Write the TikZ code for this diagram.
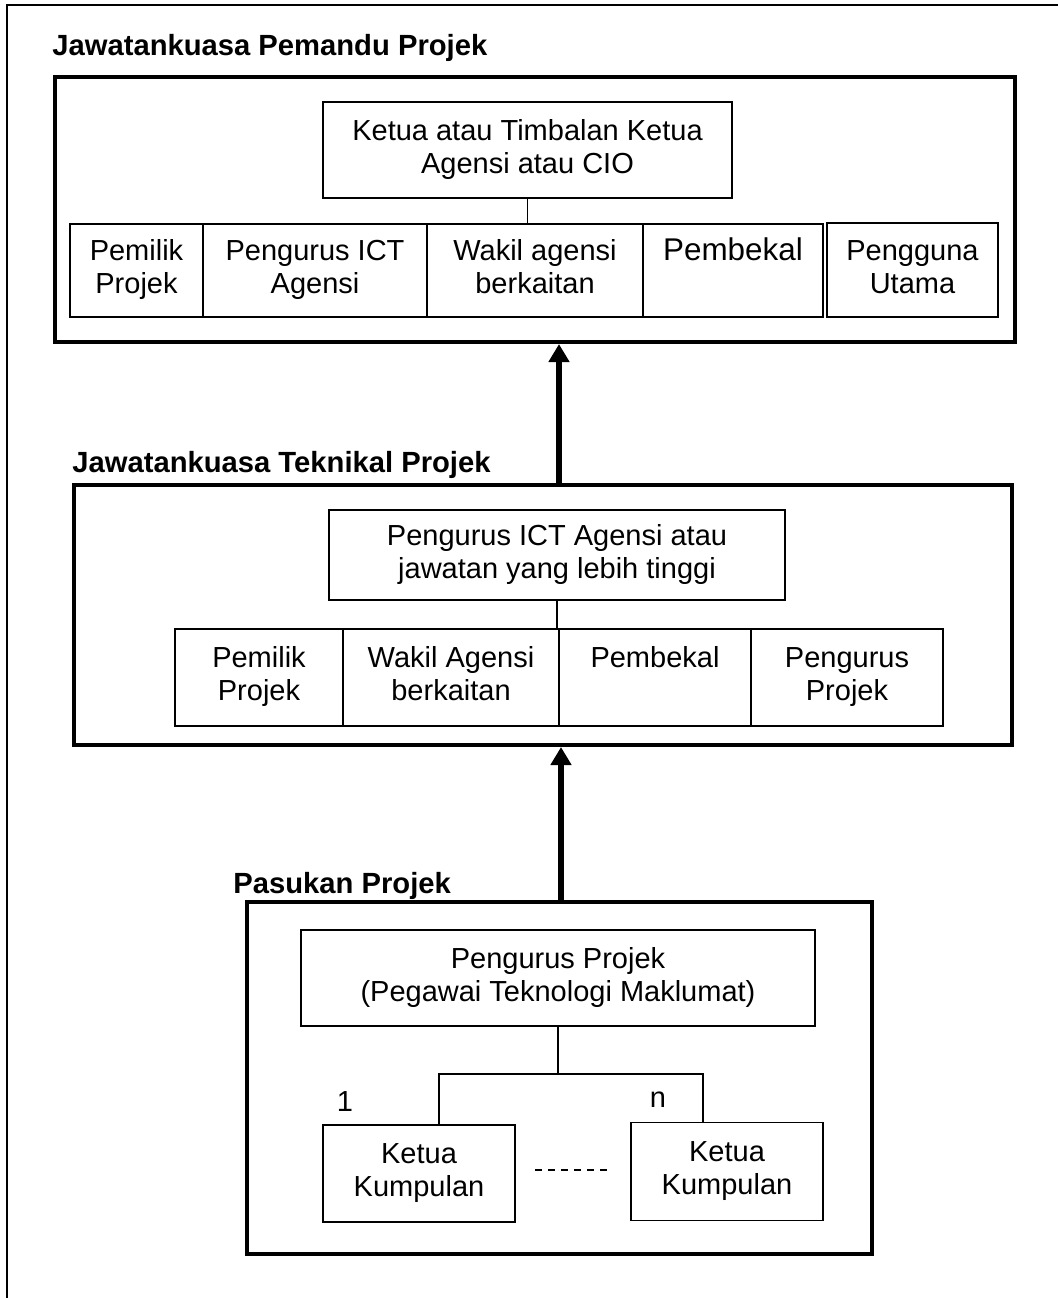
\documentclass[tikz,border=0pt]{standalone}
\usepackage{fontspec}
\setmainfont{Liberation Sans}
\usetikzlibrary{arrows.meta,calc}
\newcommand{\strl}[1]{\strut#1}
\tikzset{
  grp/.style={draw, line width=2pt, inner sep=0pt, anchor=center},
  cell/.style={draw, line width=0.75pt, inner sep=0pt, anchor=center, align=center,
    font=\fontsize{14.5pt}{16.5pt}\selectfont},
  ttl/.style={anchor=base west, inner sep=0pt, font=\fontsize{14.6pt}{16.5pt}\selectfont\bfseries},
  lbl/.style={inner sep=0pt, font=\fontsize{14.5pt}{16.5pt}\selectfont},
  conn/.style={line width=0.75pt},
  uparrow/.style={line width=2.6pt, -{Triangle[length=9pt,width=10pt]}}
}
\begin{document}
\begin{tikzpicture}[x=0.5pt, y=-0.5pt]
\useasboundingbox (0,0) rectangle (1058,1298);
% outer frame
\coordinate (fr1) at (1058,5);
\coordinate (fr2) at (7,5);
\coordinate (fr3) at (7,1298);
\draw[line width=1.1pt] (fr1) -- (fr2) -- (fr3);

% ---------- group 1 ----------
\node[ttl] (ttl1) at (52,55) {Jawatankuasa Pemandu Projek};
\node[grp, minimum width=480pt, minimum height=132.5pt] (g1) at (535,209.5) {};
\node[cell, minimum width=204.5pt, minimum height=48pt] (t1) at (527.5,150) {\strl{Ketua atau Timbalan Ketua}\\\strl{Agensi atau CIO}};
\node[cell, minimum width=66.5pt, minimum height=46.5pt] (c11) at (136.5,270.5) {\strl{Pemilik}\\\strl{Projek}};
\node[cell, minimum width=112pt, minimum height=46.5pt] (c12) at (315,270.5) {\strl{Pengurus ICT}\\\strl{Agensi}};
\node[cell, minimum width=108pt, minimum height=46.5pt] (c13) at (535,270.5) {\strl{Wakil agensi}\\\strl{berkaitan}};
\node[cell, minimum width=90pt, minimum height=46.5pt, font=\fontsize{15.7pt}{17pt}\selectfont] (c14) at (733,270.5) {\strl{Pembekal}\\\strl{~}};
\node[cell, minimum width=85.5pt, minimum height=47pt] (c15) at (912.5,270) {\strl{Pengguna}\\\strl{Utama}};
\draw[conn] (t1.south) -- (t1.south |- c13.north);

% ---------- group 2 ----------
\node[ttl] (ttl2) at (72,472) {Jawatankuasa Teknikal Projek};
\node[grp, minimum width=469pt, minimum height=130pt] (g2) at (543,615) {};
\node[cell, minimum width=228pt, minimum height=45pt] (t2) at (557,555) {\strl{Pengurus ICT Agensi atau}\\\strl{jawatan yang lebih tinggi}};
\node[cell, minimum width=84pt, minimum height=48.5pt] (c21) at (259,677.5) {\strl{Pemilik}\\\strl{Projek}};
\node[cell, minimum width=108pt, minimum height=48.5pt] (c22) at (451,677.5) {\strl{Wakil Agensi}\\\strl{berkaitan}};
\node[cell, minimum width=96pt, minimum height=48.5pt] (c23) at (655,677.5) {\strl{Pembekal}\\\strl{~}};
\node[cell, minimum width=96pt, minimum height=48.5pt] (c24) at (847,677.5) {\strl{Pengurus}\\\strl{Projek}};
\draw[conn] (t2.south) -- (t2.south |- c23.north);

% ---------- group 3 ----------
\node[ttl] (ttl3) at (233,893) {Pasukan Projek};
\node[grp, minimum width=312.5pt, minimum height=176pt] (g3) at (559.5,1078) {};
\node[cell, minimum width=257pt, minimum height=48pt] (t3) at (558,978) {\strl{Pengurus Projek}\\\strl{(Pegawai Teknologi Maklumat)}};
\node[cell, minimum width=96pt, minimum height=48.5pt] (k1) at (419,1173.5) {\strl{Ketua}\\\strl{Kumpulan}};
\node[cell, minimum width=96pt, minimum height=49pt] (k2) at (727,1171.5) {\strl{Ketua}\\\strl{Kumpulan}};
\coordinate (jm) at (558,1074);
\coordinate (j1) at (439,1074);
\coordinate (j2) at (703,1074);
\draw[conn] (t3.south) -- (jm);
\draw[conn] (j1 |- k1.north) -- (j1) -- (j2) -- (j2 |- k2.north);
\node[lbl] (n1) at (345,1102) {1};
\node[lbl] (nn) at (658,1100) {n};
\coordinate (d1) at (535,1170);
\coordinate (d2) at (608,1170);
\draw[line width=0.6pt, dash pattern=on 3.5pt off 3pt] (d1) -- (d2);

% ---------- arrows ----------
\draw[uparrow] (g2.north -| 559,0) -- (g1.south -| 559,0);
\draw[uparrow] (g3.north -| 561,0) -- (g2.south -| 561,0);
\end{tikzpicture}
\end{document}
